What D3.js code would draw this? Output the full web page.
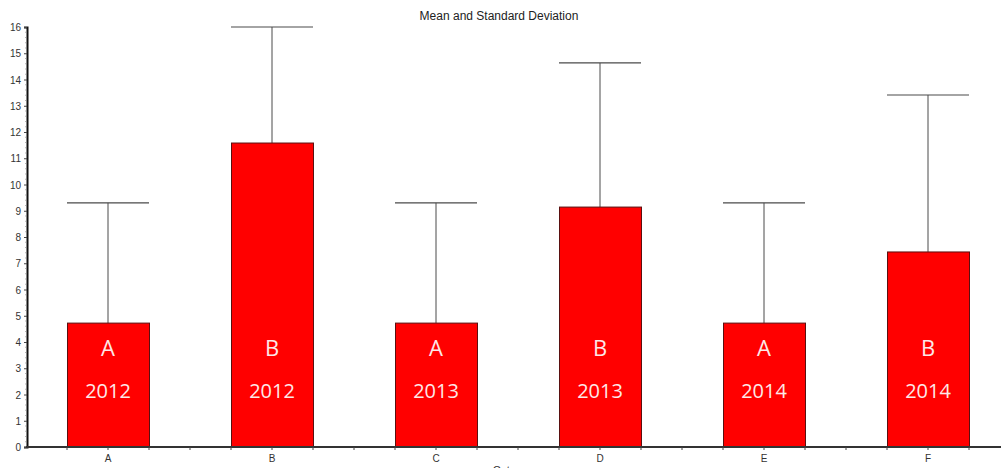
<!DOCTYPE html>
<html><head><meta charset="utf-8">
<script src="https://cdn.jsdelivr.net/npm/d3@7"></script>
<style>body{margin:0;background:#fff}svg{display:block}</style>
</head><body>
<svg id="c" width="1001" height="468"></svg>
<script>
const categories = ["A","B","C","D","E","F"];
const means = [4.72, 11.58, 4.72, 9.14, 4.72, 7.43];
const sds = [4.58, 4.42, 4.58, 5.49, 4.58, 5.98];
const barLetters = ["A","B","A","B","A","B"];
const barYears = ["2012","2012","2013","2013","2014","2014"];
const yTicks = [0,1,2,3,4,5,6,7,8,9,10,11,12,13,14,15,16];

const svg = d3.select("#c");
const x = d3.scaleBand().domain(categories).range([26, 1010]).paddingInner(0.5).paddingOuter(0.25);
const y = d3.scaleLinear().domain([0, 16]).range([447, 27]);

svg.append("text").attr("x", 499).attr("y", 20).attr("text-anchor", "middle")
  .attr("font-family", "Liberation Sans, Arial").attr("font-size", 12).attr("fill", "#222")
  .text("Mean and Standard Deviation");

// error bars
const g = svg.append("g");
categories.forEach((c, i) => {
  const x0 = x(c), x1 = x(c) + x.bandwidth(), xc = x0 + x.bandwidth() / 2;
  g.append("line").attr("x1", xc).attr("x2", xc).attr("y1", y(means[i])).attr("y2", y(means[i] + sds[i]))
    .attr("stroke", "#4a4a4a").attr("stroke-width", 1);
  g.append("line").attr("x1", x0).attr("x2", x1).attr("y1", y(means[i] + sds[i])).attr("y2", y(means[i] + sds[i]))
    .attr("stroke", "#4a4a4a").attr("stroke-width", 1.2);
});

// bars
categories.forEach((c, i) => {
  g.append("rect").attr("x", x(c) + 0.5).attr("y", y(means[i])).attr("width", x.bandwidth())
    .attr("height", y(0) - y(means[i])).attr("fill", "#ff0000").attr("stroke", "#5a1010").attr("stroke-width", 1);
  const xc = x(c) + x.bandwidth() / 2;
  g.append("text").attr("x", xc).attr("y", y(3.47)).attr("text-anchor", "middle")
    .attr("font-family", "Open Sans, Liberation Sans, sans-serif").attr("font-size", 22).attr("fill", "#fde8e8")
    .text(barLetters[i]);
  g.append("text").attr("x", xc).attr("y", y(1.87)).attr("text-anchor", "middle")
    .attr("font-family", "Open Sans, Liberation Sans, sans-serif").attr("font-size", 20).attr("fill", "#fde8e8")
    .text(barYears[i]);
});

// y axis
const yAxis = svg.append("g").attr("transform", "translate(27,0)")
  .call(d3.axisLeft(y).tickValues(yTicks).tickSize(3).tickFormat(d3.format("d")));
yAxis.select(".domain").attr("stroke", "#111").attr("stroke-width", 2);
yAxis.selectAll(".tick line").attr("stroke", "#444");
yAxis.selectAll(".tick text").attr("font-family", "Liberation Sans, Arial").attr("font-size", 10).attr("fill", "#333").attr("dy", "0.35em");
const minor = d3.range(0, 16.001, 0.2).filter(v => Math.abs(v - Math.round(v)) > 0.01);
svg.append("g").selectAll("line").data(minor).join("line")
  .attr("x1", 25).attr("x2", 27).attr("y1", d => y(d)).attr("y2", d => y(d)).attr("stroke", "#888").attr("stroke-width", 0.6);

// x axis
const xAxis = svg.append("g").attr("transform", "translate(0,447)")
  .call(d3.axisBottom(x).tickSize(3).tickSizeOuter(0));
xAxis.select(".domain").attr("stroke", "#333").attr("stroke-width", 2).attr("d", "M26,0H1010");
xAxis.selectAll(".tick line").attr("stroke", "#444");
xAxis.selectAll(".tick text").attr("font-family", "Liberation Sans, Arial").attr("font-size", 10).attr("fill", "#333").attr("dy", "0.9em");
const extraTicks = [];
categories.forEach(c => { extraTicks.push(x(c)); extraTicks.push(x(c) + x.bandwidth()); extraTicks.push(x(c) - x.step() * x.paddingInner() / 2 + x.step()); });
svg.append("g").selectAll("line").data(extraTicks).join("line")
  .attr("x1", d => d).attr("x2", d => d).attr("y1", 447).attr("y2", 450).attr("stroke", "#444").attr("stroke-width", 1);

svg.append("text").attr("x", 515).attr("y", 474).attr("text-anchor", "middle")
  .attr("font-family", "Liberation Sans, Arial").attr("font-size", 11).attr("fill", "#333").text("Category");
</script>
</body></html>
